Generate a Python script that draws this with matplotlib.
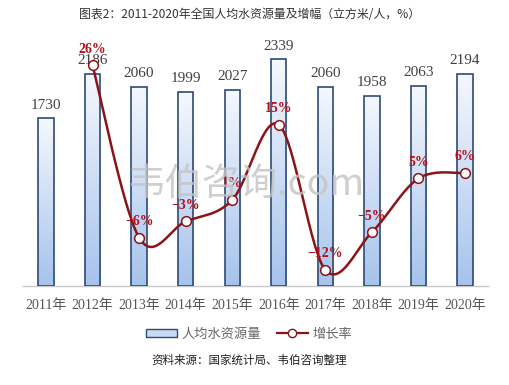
import matplotlib
matplotlib.use('Agg')
import matplotlib.pyplot as plt
import numpy as np
from matplotlib.patches import Patch
from matplotlib.lines import Line2D

# data
years = ['2011年', '2012年', '2013年', '2014年', '2015年', '2016年', '2017年', '2018年', '2019年', '2020年']
water = [1730, 2186, 2060, 1999, 2027, 2339, 2060, 1958, 2063, 2194]
growth = [None, 26, -6, -3, 1, 15, -12, -5, 5, 6]
growth_labels = ['26%', '−6%', '−3%', '1%', '15%', '−12%', '−5%', '5%', '6%']

CJK = 'Noto Sans CJK SC'
SERIF = ['Liberation Serif', CJK]
LINE_C = '#8c1418'
EDGE_C = '#2d4a78'


def smooth(xs, ys, n=40):
    # Excel-like smoothed line: catmull-rom as cubic bezier between the points
    pts = np.column_stack([xs, ys]).astype(float)
    out = []
    for i in range(len(pts) - 1):
        p0 = pts[i - 1] if i > 0 else pts[i]
        p1, p2 = pts[i], pts[i + 1]
        p3 = pts[i + 2] if i + 2 < len(pts) else pts[i + 1]
        b1 = p1 + (p2 - p0) / 6
        b2 = p2 - (p3 - p1) / 6
        t = np.linspace(0, 1, n)[:, None]
        seg = (1 - t) ** 3 * p1 + 3 * (1 - t) ** 2 * t * b1 + 3 * (1 - t) * t ** 2 * b2 + t ** 3 * p2
        out.append(seg)
    c = np.vstack(out)
    return c[:, 0], c[:, 1]


fig = plt.figure(figsize=(5.09, 3.85), dpi=100)
fig.patch.set_facecolor('white')
ax = fig.add_axes([0.0446, 0.257, 0.9147, 0.629])

x = np.arange(len(years))
width = 0.33
bars = ax.bar(x, water, width, facecolor='none', edgecolor=EDGE_C, linewidth=1.2, zorder=3)

grad = np.linspace(0, 1, 100)[:, None]
cmap = matplotlib.colors.LinearSegmentedColormap.from_list('g', ['#f5f8fd', '#a6c3ec'])
for b in bars:
    x0 = b.get_x()
    im = ax.imshow(grad, cmap=cmap, aspect='auto', origin='upper',
                   extent=(x0, x0 + b.get_width(), 0, b.get_height()), zorder=2)
    im.set_clip_path(b)

for xi, v in zip(x, water):
    ax.annotate(str(v), (xi, v), xytext=(0, 5), textcoords='offset points',
                ha='center', va='bottom', fontsize=11, family='Liberation Serif',
                color='#404040', zorder=6)

ax.set_xlim(-0.5, len(years) - 0.5)
ax.set_ylim(0, 2500)
ax.set_yticks([])
ax.set_xticks(x)
ax.set_xticklabels(years, family=SERIF, fontsize=10, color='#555555')
ax.tick_params(axis='x', length=0, pad=9)
for s in ['top', 'right', 'left']:
    ax.spines[s].set_visible(False)
ax.spines['bottom'].set_color('#c8c8c8')
ax.spines['bottom'].set_linewidth(1)

ax2 = ax.twinx()
ax2.set_ylim(-15, 30)
ax2.set_yticks([])
for s in ax2.spines.values():
    s.set_visible(False)

gx = [xi for xi, g in zip(x, growth) if g is not None]
gy = [g for g in growth if g is not None]
sx, sy = smooth(gx, gy)
ax2.plot(sx, sy, color=LINE_C, linewidth=1.8, zorder=4)
ax2.plot(gx, gy, linestyle='none', marker='o', markersize=7, markerfacecolor='white',
         markeredgecolor=LINE_C, markeredgewidth=1.1, zorder=5)
for xi, g, lab in zip(gx, gy, growth_labels):
    ax2.annotate(lab, (xi, g), xytext=(0, 7), textcoords='offset points',
                 ha='center', va='bottom', fontsize=10, fontweight='bold',
                 family='Liberation Serif', color='#b0121c', zorder=6)

# watermark
fig.text(0.485, 0.52, '韦伯咨询.com', family=[CJK, 'DejaVu Sans'], fontsize=27,
         fontweight='light', color='#c4c4c4', alpha=0.8, ha='center', va='center', zorder=10)

fig.text(0.49, 0.962, '图表2：2011-2020年全国人均水资源量及增幅（立方米/人，%）',
         family=[CJK, 'DejaVu Sans'], fontsize=8.6, color='#333333', ha='center', va='center')

handles = [Patch(facecolor='#c9daf3', edgecolor=EDGE_C, linewidth=1),
           Line2D([], [], color=LINE_C, linewidth=1.6, marker='o', markersize=6,
                  markerfacecolor='white', markeredgecolor=LINE_C)]
leg = fig.legend(handles, ['人均水资源量', '增长率'], loc='center', bbox_to_anchor=(0.49, 0.132),
                 ncol=2, frameon=False, prop={'family': CJK, 'size': 9.5},
                 handlelength=2.3, handleheight=0.55, columnspacing=1.2, handletextpad=0.4)
for t in leg.get_texts():
    t.set_color('#666666')

fig.text(0.49, 0.065, '资料来源：国家统计局、韦伯咨询整理', family=[CJK, 'DejaVu Sans'],
         fontsize=8.3, fontweight='medium', color='#222222', ha='center', va='center')

fig.savefig('out.png', dpi=100)
